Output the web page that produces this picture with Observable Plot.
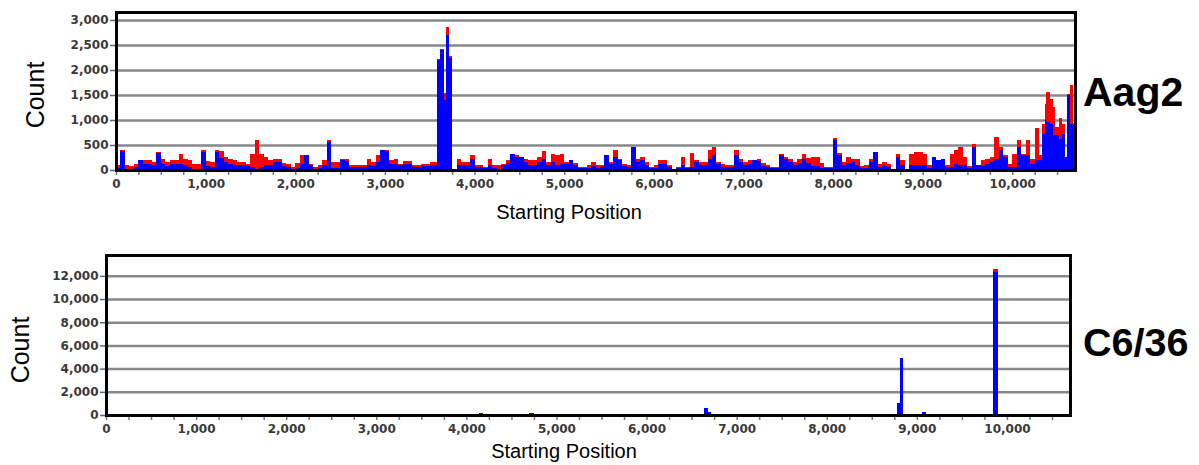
<!DOCTYPE html>
<html>
<head>
<meta charset="utf-8">
<script src="https://cdn.jsdelivr.net/npm/d3@7"></script>
<script src="https://cdn.jsdelivr.net/npm/@observablehq/plot@0.6"></script>
<style>
  html, body { margin: 0; padding: 0; background: #fff; }
  #wrap { position: relative; width: 1199px; height: 465px; overflow: hidden; font-family: "Liberation Sans", Arial, sans-serif; }
  .panel { position: absolute; left: 0; }
  .lbl { position: absolute; white-space: nowrap; line-height: 1; color: #000; }
  .count { font-size: 25px; transform: translate(-50%, -50%) rotate(-90deg); }
  .xlab { font-size: 20px; transform: translateX(-50%); }
  .name { font-weight: bold; }
</style>
</head>
<body>
<div id="wrap"></div>
<script>
// ---- Aag2 panel: bin start positions, red and blue counts ----
const aagStart = [
  0,50,100,150,200,250,300,350,400,450,500,550,600,650,700,750,800,850,900,950,
  1000,1050,1100,1150,1200,1250,1300,1350,1400,1450,1500,1550,1600,1650,1700,1750,1800,1850,1900,1950,
  2000,2050,2100,2150,2200,2250,2300,2350,2400,2450,2500,2550,2600,2650,2700,2750,2800,2850,2900,2950,
  3000,3050,3100,3150,3200,3250,3300,3350,3400,3450,3500,3550,3580,3615,3655,3680,3720,3750,3800,3850,3900,3950,
  4000,4050,4100,4150,4200,4250,4300,4350,4400,4450,4500,4550,4600,4650,4700,4750,4800,4850,4900,4950,
  5000,5050,5100,5150,5200,5250,5300,5350,5400,5450,5500,5550,5600,5650,5700,5750,5800,5850,5900,5950,
  6000,6050,6100,6150,6200,6250,6300,6350,6400,6450,6500,6550,6600,6650,6700,6750,6800,6850,6900,6950,
  7000,7050,7100,7150,7200,7250,7300,7350,7400,7450,7500,7550,7600,7650,7700,7750,7800,7850,7900,7950,
  8000,8050,8100,8150,8200,8250,8300,8350,8400,8450,8500,8550,8600,8650,8700,8750,8800,8850,8900,8950,
  9000,9050,9100,9150,9200,9250,9300,9350,9400,9450,9500,9550,9600,9650,9700,9750,9800,9850,9900,9950,
  10000,10050,10100,10150,10200,10250,10300,10330,10360,10380,10420,10450,10480,10520,10555,10585,10610,10640,10675
];
const aagRed = [
  100,410,100,80,120,200,200,200,170,370,230,170,200,200,330,230,200,130,130,400,
  180,170,400,380,270,220,200,170,170,130,330,610,330,270,200,230,230,150,130,60,
  150,300,300,130,70,100,200,600,170,170,230,230,100,100,100,100,230,170,300,410,
  410,200,230,130,180,180,100,100,130,130,170,170,2230,2430,1550,2870,2290,30,220,170,170,300,
  100,100,70,230,100,100,130,200,330,300,270,230,200,200,270,390,170,330,300,330,
  170,200,150,70,70,110,170,100,100,300,170,400,230,130,100,470,230,270,170,70,
  100,200,200,100,30,70,270,70,350,200,170,170,400,470,170,130,100,100,400,230,
  170,200,200,230,150,100,70,70,330,270,230,170,230,330,250,270,270,150,70,70,
  650,350,170,260,230,230,80,100,230,370,130,170,130,30,330,200,30,330,370,370,
  330,100,270,200,230,100,330,400,470,270,80,530,100,200,230,270,670,470,300,130,
  330,600,330,600,230,850,300,930,1330,1570,1430,1270,870,1050,930,270,1530,1700,940
];
const aagBlue = [
  50,380,30,20,60,200,130,130,100,350,130,90,130,130,130,100,70,30,30,360,
  80,70,360,250,170,120,110,100,100,90,70,30,60,100,100,170,170,90,70,20,
  40,120,300,100,20,40,100,570,50,50,200,180,70,70,65,60,100,80,170,410,
  380,130,130,100,130,130,60,60,90,90,100,100,2200,2400,1400,2710,2250,10,100,100,100,230,
  70,70,50,100,40,30,100,150,330,270,270,160,100,100,170,230,100,170,100,120,
  130,200,100,40,40,50,80,50,60,300,130,270,200,90,60,470,170,200,100,40,
  50,130,130,60,20,40,100,40,60,170,100,100,230,300,120,70,60,60,300,170,
  100,130,200,180,80,60,40,40,310,230,170,100,150,230,150,80,80,50,40,40,
  600,300,100,140,170,100,40,40,170,370,60,80,60,10,270,100,10,100,100,100,
  100,50,270,200,230,60,60,130,100,100,40,470,100,80,130,170,230,400,270,70,
  60,470,300,300,130,200,200,730,1000,970,930,700,700,630,730,270,1500,930,900
];
const aagEndPos = 10700;

// ---- C6/36 panel ----
const c636Start = [4140, 4700, 6640, 6680, 8780, 8810, 9060, 9840];
const c636End   = [4190, 4750, 6680, 6710, 8810, 8850, 9100, 9900];
const c636Red   = [120, 120, 400, 200, 800, 4700, 150, 12560];
const c636Blue  = [200, 200, 580, 290, 1010, 4890, 290, 12350];

// ---- ticks ----
const xDomain = [0, 10700];
const xTicks = d3.range(0, 10701, 250);
const yTicksTop = [0, 500, 1000, 1500, 2000, 2500, 3000];
const yTicksBottom = [0, 2000, 4000, 6000, 8000, 10000, 12000];

const aagRows = aagStart.map((s, i) => ({
  start: s,
  end: i + 1 < aagStart.length ? aagStart[i + 1] : aagEndPos,
  red: aagRed[i],
  blue: aagBlue[i]
}));
const c636Rows = c636Start.map((s, i) => ({start: s, end: c636End[i], red: c636Red[i], blue: c636Blue[i]}));

const fmt = d3.format(",");
const xFmt = d => (d % 1000 === 0 ? fmt(d) : "");

function panel(rows, opts) {
  return Plot.plot({
    width: 1199,
    height: opts.height,
    marginLeft: opts.ml,
    marginRight: opts.mr,
    marginTop: opts.mt,
    marginBottom: opts.mb,
    x: {domain: xDomain},
    y: {domain: opts.yDomain},
    style: {fontFamily: "DejaVu Sans", fontSize: "12px", fontWeight: "bold", background: "transparent"},
    marks: [
      Plot.gridY(opts.yTicks, {stroke: "#888", strokeWidth: 2.5, strokeOpacity: 1}),
      Plot.rectY(rows, {x1: "start", x2: "end", y: "red", fill: "#ff0000", inset: 0, shapeRendering: "crispEdges"}),
      Plot.rectY(rows, {x1: "start", x2: "end", y: "blue", fill: "#0000ff", inset: 0, shapeRendering: "crispEdges"}),
      Plot.axisY(opts.yTicks, {tickSize: 6, tickPadding: 2, stroke: "#666", strokeWidth: 1.5, fill: "#3a3a3a", fontSize: 12, tickFormat: fmt, label: null}),
      Plot.axisX(xTicks, {tickSize: 5, tickPadding: 4, stroke: "#777", strokeWidth: 1.5, fill: "#3a3a3a", fontSize: 12, tickFormat: xFmt, label: null}),
      Plot.ruleY([0], {stroke: "#222", strokeWidth: 3}),
      Plot.frame({stroke: "#000", strokeWidth: 3})
    ]
  });
}

const wrap = document.getElementById("wrap");

const topPlot = panel(aagRows, {height: 240, ml: 116, mr: 124, mt: 12, mb: 70, yDomain: [0, 3160], yTicks: yTicksTop});
topPlot.classList.add("panel");
topPlot.style.top = "0px";
wrap.appendChild(topPlot);

const botPlot = panel(c636Rows, {height: 225, ml: 106, mr: 129, mt: 15, mb: 50, yDomain: [0, 13800], yTicks: yTicksBottom});
botPlot.classList.add("panel");
botPlot.style.top = "240px";
wrap.appendChild(botPlot);

function label(text, cls, left, top, size) {
  const d = document.createElement("div");
  d.className = "lbl " + cls;
  d.textContent = text;
  d.style.left = left + "px";
  d.style.top = top + "px";
  if (size) d.style.fontSize = size + "px";
  wrap.appendChild(d);
}
label("Count", "count", 35, 95);
label("Count", "count", 20, 350);
label("Starting Position", "xlab", 569, 202);
label("Starting Position", "xlab", 564, 441);
label("Aag2", "name", 1083, 72, 41);
label("C6/36", "name", 1083, 323, 39.5);
</script>
</body>
</html>
